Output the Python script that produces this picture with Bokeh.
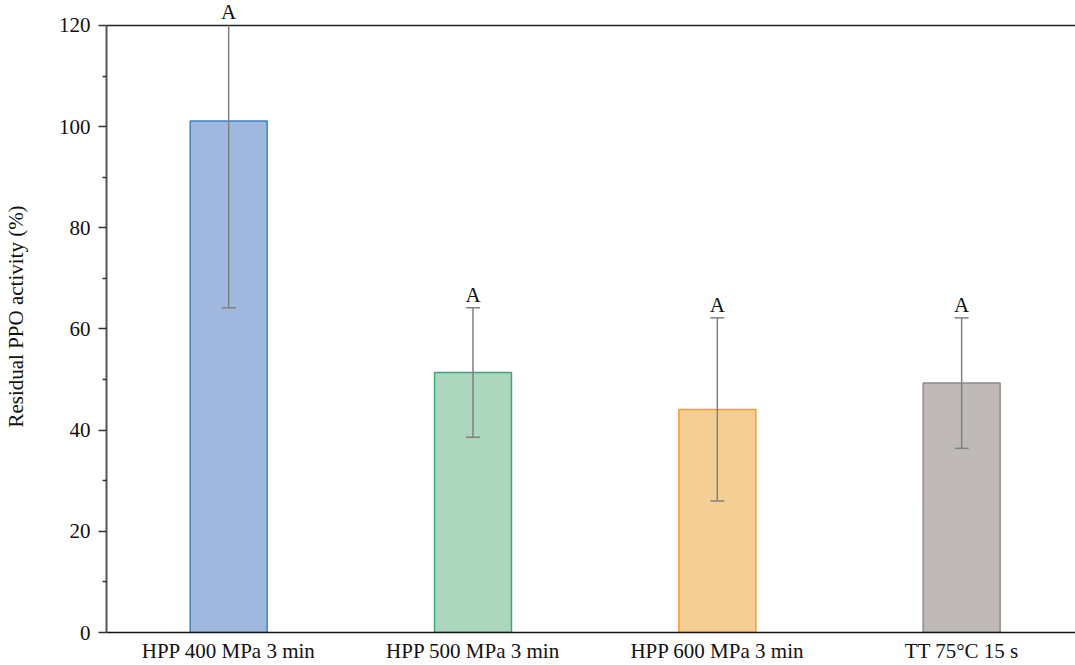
import numpy as np
from bokeh.plotting import figure
from bokeh.models import (ColumnDataSource, Whisker, LabelSet, Range1d, FixedTicker, Span, TeeHead)
from bokeh.embed import file_html
from bokeh.resources import INLINE

categories = ["HPP 400 MPa 3 min", "HPP 500 MPa 3 min", "HPP 600 MPa 3 min", "TT 75°C 15 s"]
means = [101.1, 51.4, 44.1, 49.3]
errors = [36.9, 12.8, 18.1, 12.9]
letters = ["A", "A", "A", "A"]
fill_colors = ["#a0b8dd", "#acd6bd", "#f5ce93", "#bfbab7"]
line_colors = ["#3f80c2", "#3ea876", "#efa024", "#8e8a87"]
y_ticks = [0, 20, 40, 60, 80, 100, 120]

FONT = "Liberation Serif"
ymax = 120
ytop = 124.93  # extra room above the top axis line for the letters

xpos = np.arange(len(categories)) + 0.5
m = np.array(means)
e = np.array(errors)
upper = m + e
clipped = upper > ymax
src = ColumnDataSource(dict(
    x=xpos, top=m, lower=m - e, upper=np.minimum(upper, ymax),
    cap=np.where(clipped, 0, 14),
    label_y=np.minimum(upper, ymax), letters=letters,
    fill=fill_colors, line=line_colors,
))

p = figure(width=1075, height=665, output_backend="svg", toolbar_location=None,
           x_range=Range1d(0, 3.966), y_range=Range1d(0, ytop),
           min_border_left=106, min_border_right=0, min_border_top=0, min_border_bottom=31)
p.outline_line_color = None
p.xgrid.grid_line_color = None
p.ygrid.grid_line_color = None
p.background_fill_color = "white"

p.vbar(x="x", top="top", width=0.315, bottom=0, source=src,
       fill_color="fill", line_color="line", line_width=1.5)

w = Whisker(base="x", lower="lower", upper="upper", source=src,
            line_color="#808080", line_width=1.5,
            upper_head=TeeHead(size="cap", line_color="#808080", line_width=1.5),
            lower_head=TeeHead(size=14, line_color="#808080", line_width=1.5))
w.level = "overlay"
p.add_layout(w)

labels = LabelSet(x="x", y="label_y", text="letters", source=src,
                  text_align="center", text_baseline="alphabetic", y_offset=6,
                  text_font=FONT, text_font_size="21px", text_color="#111111")
p.add_layout(labels)

p.add_layout(Span(location=ymax, dimension="width", line_color="#222222", line_width=1.5))

# axes
p.xaxis.ticker = FixedTicker(ticks=list(xpos))
p.xaxis.major_label_overrides = {float(x): c for x, c in zip(xpos, categories)}
p.xaxis.major_tick_line_color = None
p.xaxis.minor_tick_line_color = None
p.xaxis.axis_line_color = "#111111"
p.xaxis.axis_line_width = 1.5
p.xaxis.major_label_text_font = FONT
p.xaxis.major_label_text_font_size = "21px"
p.xaxis.major_label_text_color = "#111111"
p.xaxis.major_label_standoff = 0

p.yaxis.bounds = (0, ymax)
p.yaxis.ticker = FixedTicker(ticks=y_ticks, minor_ticks=[10, 30, 50, 70, 90, 110])
p.yaxis.axis_line_color = "#555555"
p.yaxis.axis_line_width = 2
p.yaxis.major_tick_line_color = "#333333"
p.yaxis.major_tick_line_width = 1.5
p.yaxis.major_tick_in = 0
p.yaxis.major_tick_out = 8
p.yaxis.minor_tick_line_color = "#333333"
p.yaxis.minor_tick_line_width = 1.5
p.yaxis.minor_tick_in = 0
p.yaxis.minor_tick_out = 4
p.yaxis.major_label_text_font = FONT
p.yaxis.major_label_text_font_size = "21px"
p.yaxis.major_label_text_color = "#111111"
p.yaxis.major_label_standoff = 8
p.yaxis.axis_label = "Residual PPO activity (%)"
p.yaxis.axis_label_text_font = FONT
p.yaxis.axis_label_text_font_style = "normal"
p.yaxis.axis_label_text_font_size = "21px"
p.yaxis.axis_label_text_color = "#111111"
p.yaxis.axis_label_standoff = 28

open("out.html", "w").write(file_html(p, INLINE))
